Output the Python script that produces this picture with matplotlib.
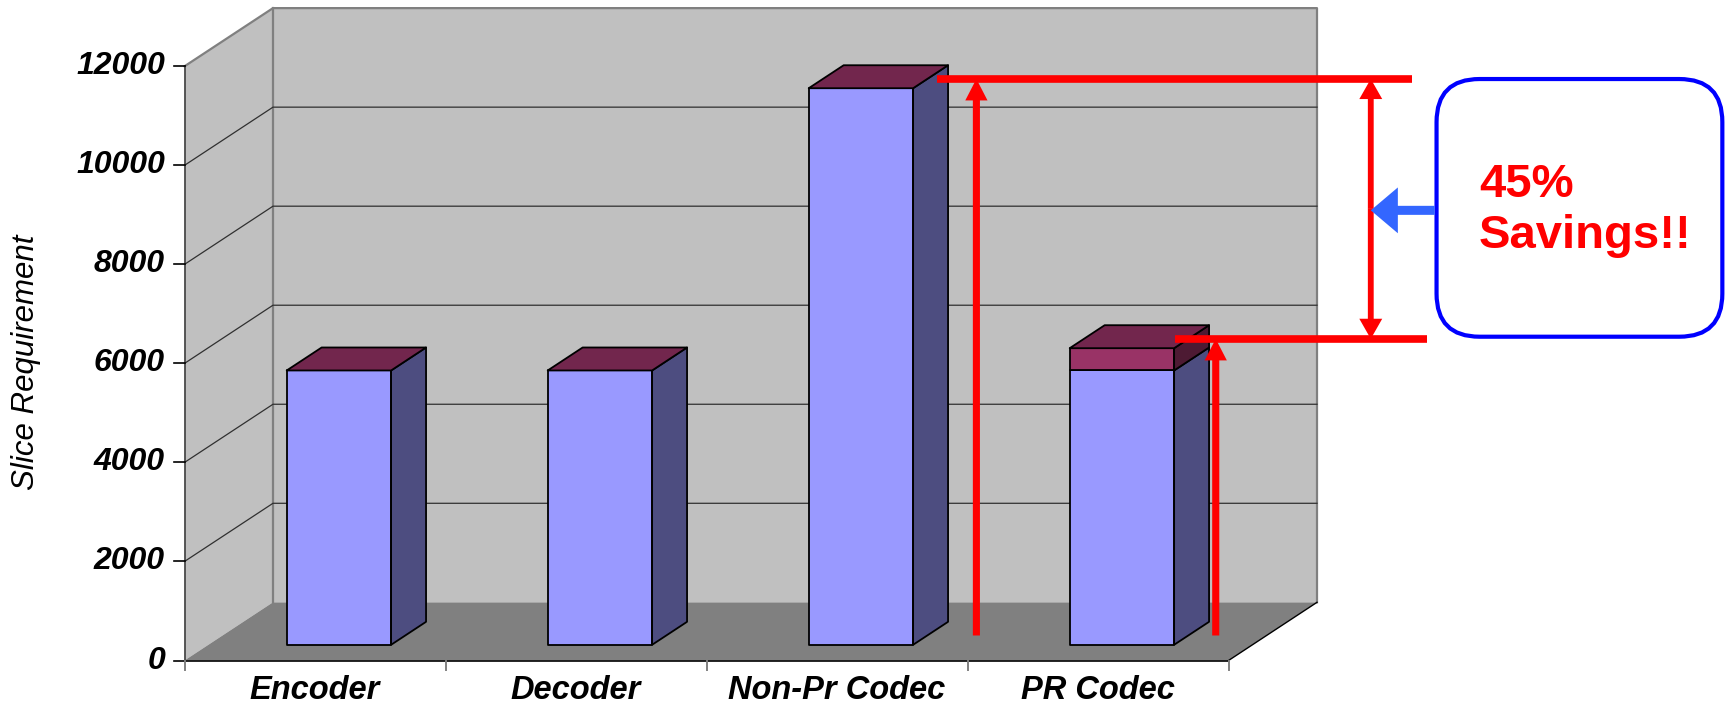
import matplotlib
matplotlib.use("Agg")
import matplotlib.pyplot as plt
from matplotlib.patches import Polygon, FancyBboxPatch

categories = ["Encoder", "Decoder", "Non-Pr Codec", "PR Codec"]
base_slices = [5540, 5540, 11240, 5540]
extra_slices = [0, 0, 0, 450]
y_ticks = [0, 2000, 4000, 6000, 8000, 10000, 12000]
y_label = "Slice Requirement"
savings_text = "45%\nSavings!!"

# pseudo-3d geometry (data units): depth vector of the floor, bar depth range
DX, DY = 0.339, 1175.0
F0, F1 = 0.27, 0.665
BAR_W = 0.40
YMAX = 12000

FRONT = "#9999ff"
SIDE = "#4d4d80"
TOP = "#72264d"
FRONT2 = "#993366"
SIDE2 = "#4d1a33"


def poly(ax, pts, fc, ec="none", lw=0, z=1):
    ax.add_patch(Polygon(pts, closed=True, facecolor=fc, edgecolor=ec,
                         linewidth=lw, zorder=z, joinstyle="round"))


def box(ax, x0, x1, y0, y1, front, side, top, z):
    a, b = F0, F1
    p = lambda x, y, f: (x + f * DX, y + f * DY)
    poly(ax, [p(x0, y0, a), p(x1, y0, a), p(x1, y1, a), p(x0, y1, a)],
         front, "black", 1.3, z)
    poly(ax, [p(x1, y0, a), p(x1, y0, b), p(x1, y1, b), p(x1, y1, a)],
         side, "black", 1.3, z)
    if top:
        poly(ax, [p(x0, y1, a), p(x1, y1, a), p(x1, y1, b), p(x0, y1, b)],
             TOP, "black", 1.3, z)


fig = plt.figure(figsize=(17.26, 7.07), dpi=100)
ax = fig.add_axes([0, 0, 1, 1])
ax.set_xlim(-0.7069, 5.906)
ax.set_ylim(-939, 13339)
ax.axis("off")

n = len(categories)

# walls and floor
poly(ax, [(0, 0), (DX, DY), (DX, YMAX + DY), (0, YMAX)], "#c0c0c0")
poly(ax, [(DX, DY), (n + DX, DY), (n + DX, YMAX + DY), (DX, YMAX + DY)], "#c0c0c0")
poly(ax, [(0, 0), (n, 0), (n + DX, DY), (DX, DY)], "#808080")
ax.plot([0, DX, n + DX, n + DX], [YMAX, YMAX + DY, YMAX + DY, DY],
        color="#808080", lw=1.6, zorder=2)
ax.plot([DX, DX], [DY, YMAX + DY], color="#808080", lw=1.6, zorder=2)

for v in y_ticks[1:-1]:
    ax.plot([0, DX, n + DX], [v, v + DY, v + DY], color="#303030", lw=0.9, zorder=2)

# axes lines and ticks
ax.plot([0, 0], [0, YMAX], color="#404040", lw=1.2, zorder=3)
ax.plot([0, n], [0, 0], color="black", lw=1.2, zorder=3)
ax.plot([n, n + DX], [0, DY], color="black", lw=1.0, zorder=3)
for v in y_ticks:
    ax.plot([-0.04, 0], [v, v], color="black", lw=1.2, zorder=3)
    ax.text(-0.075, v, str(v), ha="right", va="center", fontsize=23,
            fontweight="bold", fontstyle="italic", family="Liberation Sans")
for i in range(n + 1):
    ax.plot([i, i], [0, -190], color="#808080", lw=1.4, zorder=3)

for i, name in enumerate(categories):
    ax.text(i + 0.5, -300, name, ha="center", va="top", fontsize=23.5,
            fontweight="bold", fontstyle="italic", family="Liberation Sans")

ax.text(-0.607, 6028, y_label, rotation=90, ha="center", va="center",
        fontsize=22.5, fontstyle="italic", family="Liberation Sans")

# bars
for i in range(n):
    x0 = i + 0.5 - BAR_W / 2
    x1 = x0 + BAR_W
    base = base_slices[i]
    extra = extra_slices[i]
    box(ax, x0, x1, 0, base, FRONT, SIDE, extra == 0, 4)
    if extra:
        box(ax, x0, x1, base, base + extra, FRONT2, SIDE2, True, 4)

# savings annotation
lift = 0.43 * DY
hi = base_slices[2] + extra_slices[2] + lift
lo = base_slices[3] + extra_slices[3] + lift
red = "#ff0000"

ax.plot([2.883, 4.703], [hi, hi], color=red, lw=5.5, zorder=6, solid_capstyle="butt")
ax.plot([3.795, 4.759], [lo, lo], color=red, lw=5.5, zorder=6, solid_capstyle="butt")


def simple_arrow(tail, tip, color, tw, hw, hl):
    ax.annotate("", xy=tip, xytext=tail, zorder=7,
                arrowprops=dict(arrowstyle=f"simple,head_length={hl},head_width={hw},tail_width={tw}",
                                mutation_scale=1, color=color, lw=0,
                                shrinkA=0, shrinkB=0))


simple_arrow((3.034, lift), (3.034, hi), red, 5.1, 16, 15.5)
simple_arrow((3.951, lift), (3.951, lo), red, 5.1, 16, 15.5)
mid = (hi + lo) / 2
simple_arrow((4.545, mid), (4.545, hi), red, 4.2, 16.5, 14.5)
simple_arrow((4.545, mid), (4.545, lo), red, 4.2, 16.5, 14.5)
simple_arrow((4.79, 9091), (4.545, 9091), "#3366ff", 6.5, 33, 19.5)

aspect = (13339 + 939) / 707 * (1726 / (5.906 + 0.7069))
ax.add_patch(FancyBboxPatch((4.797, 6539), 1.095, 11743 - 6539,
                            boxstyle="round,pad=0,rounding_size=0.165",
                            mutation_aspect=aspect, facecolor="white",
                            edgecolor="#0000ff", lw=3, zorder=6))
ax.text(4.96, 9091, savings_text, ha="left", va="center", fontsize=34,
        fontweight="bold", color=red, family="Liberation Sans",
        linespacing=1.2, zorder=8)

fig.savefig("out.png", dpi=100)
